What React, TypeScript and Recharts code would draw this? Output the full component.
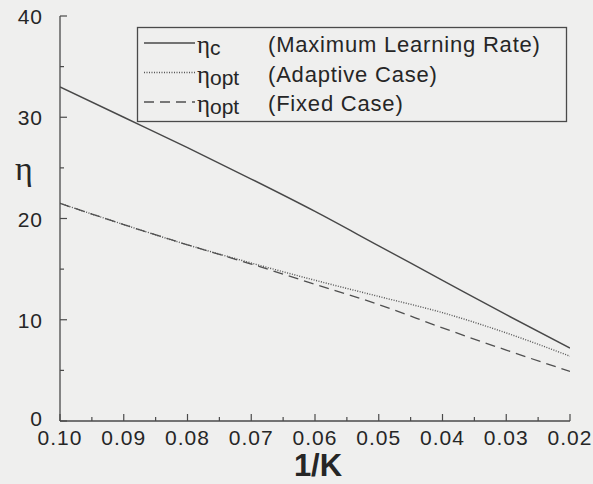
import { LineChart, Line, XAxis, YAxis, Legend } from "recharts";

// 1/K sample points and the three learning-rate curves
const invK = [0.1, 0.09, 0.08, 0.07, 0.06, 0.05, 0.04, 0.03, 0.02];
const etaMax = [33.0, 30.0, 27.0, 23.9, 20.7, 17.3, 13.9, 10.5, 7.2];
const etaAdaptive = [21.5, 19.4, 17.4, 15.6, 13.9, 12.3, 10.7, 8.7, 6.4];
const etaFixed = [21.5, 19.4, 17.4, 15.5, 13.5, 11.5, 9.2, 7.0, 4.9];

// axis ticks
const xMajor = [0.1, 0.09, 0.08, 0.07, 0.06, 0.05, 0.04, 0.03, 0.02];
const xMinor = [0.095, 0.085, 0.075, 0.065, 0.055, 0.045, 0.035, 0.025];
const xLabels = ["0.10", "0.09", "0.08", "0.07", "0.06", "0.05", "0.04", "0.03", "0.02"];
const yMajor = [0, 10, 20, 30, 40];
const yMinor = [5, 15, 25, 35];
const yLabels = ["0", "10", "20", "30", "40"];

// legend rows
const legendSub = ["c", "opt", "opt"];
const legendText = ["(Maximum Learning Rate)", "(Adaptive Case)", "(Fixed Case)"];

const data = invK.map((k, i) => ({
  k,
  max: etaMax[i],
  adaptive: etaAdaptive[i],
  fixed: etaFixed[i],
}));

const BG = "#efefee";
const INK = "#262626";
const AXIS = "#4a4a4a";
const SANS = "'Liberation Sans', Arial, Helvetica, sans-serif";
const SERIF = "'Liberation Serif', 'Times New Roman', serif";

const DASH_DOTTED = "1 1.5";
const DASH_DASHED = "10 6";
const dashes = [undefined, DASH_DOTTED, DASH_DASHED];
const strokes = ["#484848", "#555555", "#505050"];

const MAJ = 7;
const MIN = 4;

const near = (list: number[], v: number) => list.findIndex((t) => Math.abs(t - v) < 1e-6);

function BottomTick(props: any) {
  const { x, y, payload } = props;
  const i = near(xMajor, payload.value);
  const len = i >= 0 ? MAJ : MIN;
  return (
    <g>
      <line x1={x} y1={y} x2={x} y2={y - len} stroke={AXIS} strokeWidth={1.2} />
      {i >= 0 && (
        <text x={x} y={y + 24} textAnchor="middle" fontSize={21} letterSpacing={1} fill={INK} fontFamily={SANS}>
          {xLabels[i]}
        </text>
      )}
    </g>
  );
}

function TopTick(props: any) {
  const { x, y, payload } = props;
  const len = near(xMajor, payload.value) >= 0 ? MAJ : MIN;
  return <line x1={x} y1={y} x2={x} y2={y + len} stroke={AXIS} strokeWidth={1.2} />;
}

function LeftTick(props: any) {
  const { x, y, payload } = props;
  const i = near(yMajor, payload.value);
  const len = i >= 0 ? MAJ : MIN;
  // the zero label sits a little higher, clear of the first x label
  const lift = payload.value === 0 ? 3 : 0;
  return (
    <g>
      <line x1={x} y1={y} x2={x + len} y2={y} stroke={AXIS} strokeWidth={1.2} />
      {i >= 0 && (
        <text x={x - 17} y={y + 8 - lift} textAnchor="end" fontSize={21} letterSpacing={1} fill={INK} fontFamily={SANS}>
          {yLabels[i]}
        </text>
      )}
    </g>
  );
}

function RightTick(props: any) {
  const { x, y, payload } = props;
  const len = near(yMajor, payload.value) >= 0 ? MAJ : MIN;
  return <line x1={x} y1={y} x2={x - len} y2={y} stroke={AXIS} strokeWidth={1.2} />;
}

function LegendBox() {
  return (
    <svg width={431} height={96} style={{ display: "block", overflow: "visible" }}>
      <rect x={0.5} y={0.5} width={429} height={94} fill="none" stroke={AXIS} strokeWidth={1.3} />
      {legendText.map((t, i) => {
        const base = 25 + i * 29.5;
        return (
          <g key={t}>
            <line
              x1={7}
              x2={58}
              y1={base - 9}
              y2={base - 9}
              stroke={strokes[i]}
              strokeWidth={1.3}
              strokeDasharray={dashes[i]}
            />
            <text x={60} y={base + 1} fill={INK} fontFamily={SERIF} fontSize={25}>
              η
            </text>
            <text x={73} y={base + 3} fill={INK} fontFamily={SANS} fontSize={21}>
              {legendSub[i]}
            </text>
            <text x={131} y={base} fill={INK} fontFamily={SANS} fontSize={22} letterSpacing={0.8}>
              {t}
            </text>
          </g>
        );
      })}
    </svg>
  );
}

export default function App() {
  return (
    <div style={{ position: "absolute", left: 0, top: 0, width: 593, height: 484, background: BG, overflow: "hidden" }}>
      <LineChart width={593} height={484} data={data} margin={{ top: 16, right: 23, bottom: 0, left: 0 }}>
        <XAxis
          xAxisId="x"
          dataKey="k"
          type="number"
          domain={[0.02, 0.1]}
          reversed
          allowDataOverflow
          ticks={[...xMajor, ...xMinor]}
          interval={0}
          height={63}
          tickSize={0}
          tickMargin={0}
          tickLine={false}
          tick={<BottomTick />}
          axisLine={{ stroke: AXIS, strokeWidth: 1.3 }}
        />
        <XAxis
          xAxisId="top"
          orientation="top"
          type="number"
          domain={[0.02, 0.1]}
          reversed
          allowDataOverflow
          ticks={[...xMajor, ...xMinor]}
          interval={0}
          height={0}
          tickSize={0}
          tickMargin={0}
          tickLine={false}
          tick={<TopTick />}
          axisLine={{ stroke: AXIS, strokeWidth: 1.3 }}
        />
        <YAxis
          yAxisId="y"
          type="number"
          domain={[0, 40]}
          allowDataOverflow
          ticks={[...yMajor, ...yMinor]}
          interval={0}
          width={60}
          tickSize={0}
          tickMargin={0}
          tickLine={false}
          tick={<LeftTick />}
          axisLine={{ stroke: AXIS, strokeWidth: 1.3 }}
        />
        <YAxis
          yAxisId="right"
          orientation="right"
          type="number"
          domain={[0, 40]}
          allowDataOverflow
          ticks={[...yMajor, ...yMinor]}
          interval={0}
          width={0}
          tickSize={0}
          tickMargin={0}
          tickLine={false}
          tick={<RightTick />}
          axisLine={{ stroke: AXIS, strokeWidth: 1.3 }}
        />
        <Legend
          layout="horizontal"
          verticalAlign="middle"
          align="center"
          content={() => <LegendBox />}
          wrapperStyle={{ position: "absolute", left: 137, top: 27, width: 431, height: 96 }}
        />
        <Line
          xAxisId="x"
          yAxisId="y"
          dataKey="max"
          name="ηc (Maximum Learning Rate)"
          type="monotone"
          stroke={strokes[0]}
          strokeWidth={1.4}
          dot={false}
          isAnimationActive={false}
        />
        <Line
          xAxisId="x"
          yAxisId="y"
          dataKey="adaptive"
          name="ηopt (Adaptive Case)"
          type="monotone"
          stroke={strokes[1]}
          strokeWidth={1.4}
          strokeDasharray={DASH_DOTTED}
          dot={false}
          isAnimationActive={false}
        />
        <Line
          xAxisId="x"
          yAxisId="y"
          dataKey="fixed"
          name="ηopt (Fixed Case)"
          type="monotone"
          stroke={strokes[2]}
          strokeWidth={1.3}
          strokeDasharray={DASH_DASHED}
          dot={false}
          isAnimationActive={false}
        />
      </LineChart>
      <svg width={593} height={484} style={{ position: "absolute", left: 0, top: 0, pointerEvents: "none" }}>
        <text x={15} y={180} fontFamily={SERIF} fontSize={34} fill={INK}>
          η
        </text>
        <text x={318} y={476} textAnchor="middle" fontFamily={SANS} fontSize={31} fontWeight="bold" fill={INK}>
          1/K
        </text>
      </svg>
    </div>
  );
}
